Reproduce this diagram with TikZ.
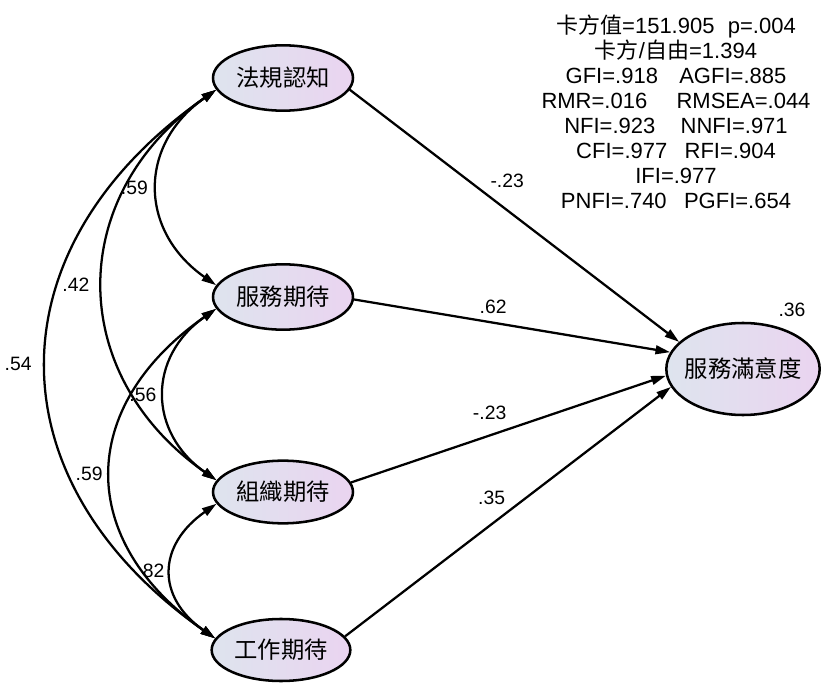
\documentclass[tikz,border=0pt]{standalone}
\usepackage{fontspec}
\setmainfont{Liberation Sans}
\newfontfamily\cjk{Noto Sans CJK TC}
\usetikzlibrary{arrows.meta, shapes.geometric}
\definecolor{latleft}{RGB}{222,228,238}
\definecolor{latright}{RGB}{234,212,240}

\begin{document}
\begin{tikzpicture}[
    x=0.75pt, y=-0.75pt,
    latent/.style={ellipse, draw, line width=1.9pt, left color=latleft, right color=latright, minimum width=105pt, minimum height=49pt, inner sep=0pt, font=\cjk\fontsize{17.5}{20}\selectfont},
    regress/.style={-{Triangle[length=11pt, width=6.5pt]}, line width=1.7pt},
    cov/.style={{Triangle[length=11pt, width=6.5pt]}-{Triangle[length=11pt, width=6.5pt]}, line width=1.7pt},
    coef/.style={font=\fontsize{14.5}{16}\selectfont, inner sep=1.5pt},
    fitbox/.style={align=center, inner sep=0pt, font=\fontsize{16.5}{18.75}\selectfont},
]
\useasboundingbox (0,0) rectangle (822,684);

% Latent variables
\node[latent] (law) at (283,78)  {法規認知};
\node[latent] (svc) at (283,297) {服務期待};
\node[latent, minimum height=47pt] (org) at (283,492) {組織期待};
\node[latent, minimum width=104pt, minimum height=46.5pt] (job) at (281,650) {工作期待};
\node[latent, minimum width=115pt, minimum height=69pt, inner xsep=-6pt] (sat) at (743,369) {服務滿意度};

% Correlations (left side)
\draw[cov] (law.190) to[out=215, in=145, looseness=1.25] node[coef, left=5pt] (c1) {.59} (svc.170);
\draw[cov] (law.190) to[out=215, in=145, looseness=1.21] node[coef, left=8pt] (c2) {.42} (org.170);
\draw[cov] (law.190) to[out=215, in=145, looseness=1.28] node[coef, left=9pt] (c3) {.54} (job.170);
\draw[cov] (svc.190) to[out=215, in=145, looseness=1.25] node[coef, left=4pt] (c4) {.56} (org.170);
\draw[cov] (svc.190) to[out=215, in=145, looseness=1.32] node[coef, left=4pt] (c5) {.59} (job.170);
\draw[cov] (org.190) to[out=215, in=145, looseness=1.37] node[coef, left=3pt] (c6) {82} (job.170);

% Paths to satisfaction
\draw[regress] (law.350) -- node[coef, pos=.49, xshift=-3pt, yshift=24pt] (b1) {-.23} (sat.157);
\draw[regress] (svc.358) -- node[coef, pos=.44, yshift=12pt] (b2) {.62} (sat.167);
\draw[regress] (org.8)   -- node[coef, pos=.44, yshift=17pt] (b3) {-.23} (sat.185);
\draw[regress] (job.12)  -- node[coef, pos=.45, yshift=19.5pt] (b4) {.35} (sat.194);
\node[coef] (r2) at (792,310) {.36};

% Fit indices
\node[fitbox] (fit) at (676,112) {{\cjk 卡方值}=151.905\hspace{10pt}p=.004\\
  {\cjk 卡方}/{\cjk 自由}=1.394\\
  GFI=.918\hspace{16pt}AGFI=.885\\
  RMR=.016\hspace{22pt}RMSEA=.044\\
  NFI=.923\hspace{19pt}NNFI=.971\\
  CFI=.977\hspace{13pt}RFI=.904\\
  IFI=.977\\
  PNFI=.740\hspace{13pt}PGFI=.654};

\end{tikzpicture}
\end{document}
